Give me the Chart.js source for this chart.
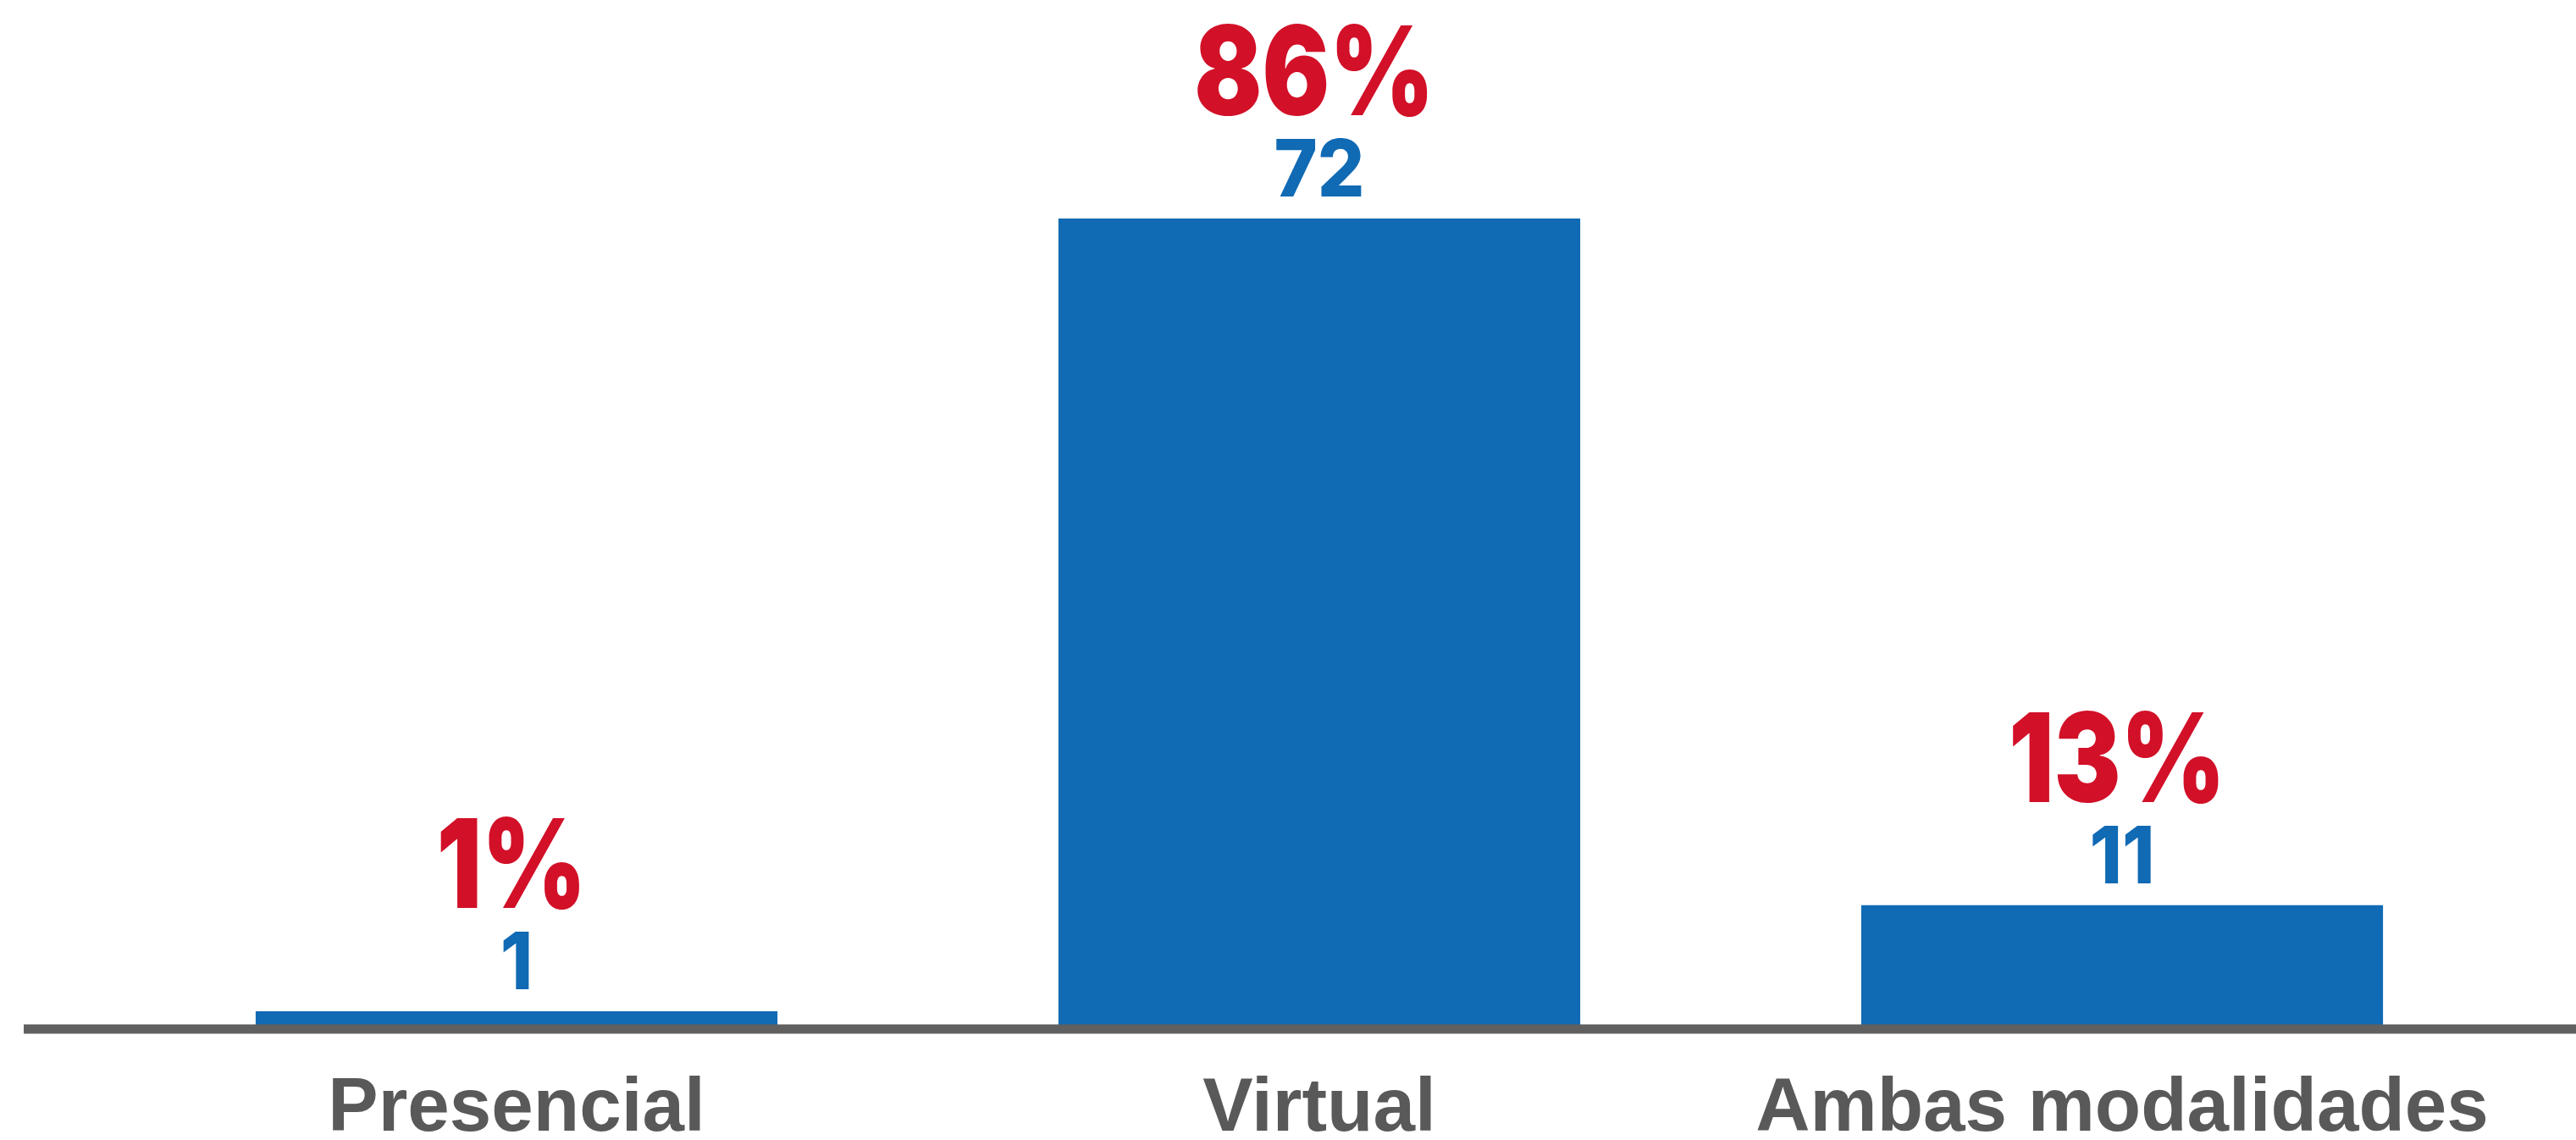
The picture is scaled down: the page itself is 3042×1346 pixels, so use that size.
<!DOCTYPE html>
<html>
<head>
<meta charset="utf-8">
<script src="https://cdn.jsdelivr.net/npm/chart.js@4.4.1/dist/chart.umd.min.js"></script>
<style>
  body { margin: 0; background: #fff; }
  #wrap { width: 3042px; height: 1346px; }
</style>
</head>
<body>
<div id="wrap"><canvas id="myChart" width="3042" height="1346"></canvas></div>
<script>
// datos del grafico
var categorias = ['Presencial', 'Virtual', 'Ambas modalidades'];
var cantidades = [1, 72, 11];
var porcentajes = ['1%', '86%', '13%'];

var azul = '#106AB4';
var rojo = '#D21028';
var gris = '#606060';

// linea base gris (mas larga que el area del grafico)
var lineaBase = {
	id: 'lineaBase',
	afterDatasetsDraw: function(chart){
		var ctx = chart.ctx;
		var y0 = chart.scales.y.getPixelForValue(0);
		ctx.save();
		ctx.fillStyle = gris;
		ctx.fillRect(28, y0 - 5.5, chart.width - 28, 11);
		ctx.restore();
	}
};

// texto un poco comprimido a lo ancho
function textoAngosto(ctx, txt, x, y, esc){
	ctx.save();
	ctx.translate(x, y);
	ctx.scale(esc, 1);
	ctx.fillText(txt, 0, 0);
	ctx.restore();
}

// etiquetas: cantidad (azul) y porcentaje (rojo) encima de cada barra
var etiquetas = {
	id: 'etiquetas',
	afterDatasetsDraw: function(chart){
		var ctx = chart.ctx;
		var meta = chart.getDatasetMeta(0);
		ctx.save();
		ctx.textAlign = 'center';
		ctx.textBaseline = 'alphabetic';
		meta.data.forEach(function(bar, i){
			ctx.fillStyle = azul;
			ctx.font = '800 94px Inter, "Open Sans", sans-serif';
			textoAngosto(ctx, String(cantidades[i]), bar.x, bar.y - 26, 0.93);
			ctx.fillStyle = rojo;
			ctx.font = '900 146px Inter, "Open Sans", sans-serif';
			textoAngosto(ctx, porcentajes[i], bar.x - 6, bar.y - 122, 0.81);
		});
		ctx.restore();
	}
};

var ctx = document.getElementById('myChart').getContext('2d');
var chart = new Chart(ctx, {
	type: 'bar',
	data: {
		labels: categorias,
		datasets: [{
			label: 'Cantidad',
			data: cantidades,
			backgroundColor: azul,
			borderWidth: 0,
			barPercentage: 0.65,
			categoryPercentage: 1,
			minBarLength: 21
		}]
	},
	options: {
		responsive: false,
		devicePixelRatio: 1,
		animation: false,
		layout: { padding: { left: 136, right: 62, top: 0, bottom: 0 } },
		plugins: {
			legend: { display: false },
			tooltip: { enabled: false }
		},
		scales: {
			x: {
				grid: { display: false, drawTicks: false },
				border: { display: false },
				ticks: {
					color: '#595959',
					padding: 42,
					font: { family: '"Liberation Sans", Arial, sans-serif', size: 89, weight: 'bold', lineHeight: 1.2 }
				},
				afterFit: function(scale){ scale.height = 131; }
			},
			y: {
				display: false,
				min: 0,
				max: 91.4
			}
		}
	},
	plugins: [lineaBase, etiquetas]
});
</script>
</body>
</html>
